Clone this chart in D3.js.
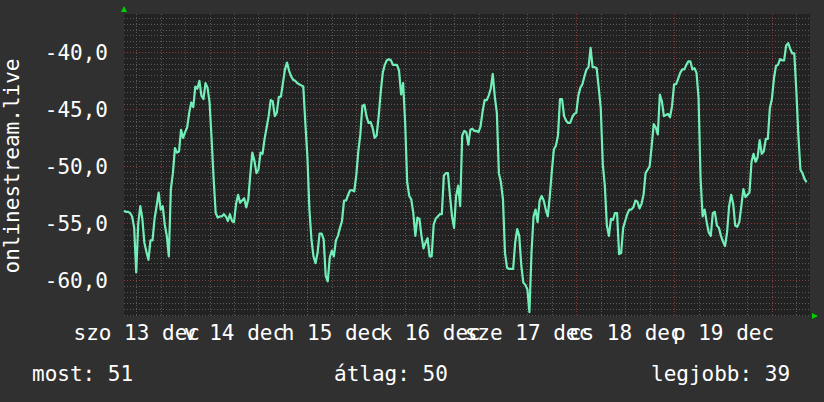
<!DOCTYPE html>
<html>
<head>
<meta charset="utf-8">
<script src="https://cdn.jsdelivr.net/npm/d3@7"></script>
<style>
  body { margin: 0; background: #303030; }
  svg text { font-family: "DejaVu Sans Mono", monospace; font-size: 21px; fill: #ffffff; }
</style>
</head>
<body>
<div class="chart"></div>
<script>
// rrd series, 30 minute steps from sat 13 dec 09:00
var startTime = Date.UTC(2014, 11, 13, 9, 0);
var stepMinutes = 30;
var values = [
  -53.9, -54.0, -54.0, -54.1, -54.4, -55.4, -59.3, -55.0, -53.5, -54.6,
  -56.7, -57.5, -58.2, -56.5, -56.5, -54.6, -53.5, -52.3, -53.8, -53.5,
  -55.1, -56.1, -57.9, -52.0, -50.6, -48.4, -48.8, -48.7, -46.8, -47.5,
  -47.0, -46.6, -45.3, -44.4, -44.8, -43.0, -43.2, -42.5, -43.8, -44.1,
  -42.7, -43.1, -44.4, -47.6, -51.1, -54.1, -54.5, -54.4, -54.4, -54.2,
  -54.4, -54.8, -54.2, -54.8, -54.9, -53.3, -52.5, -53.2, -53.0, -52.8,
  -53.6, -52.9, -50.7, -48.8, -49.5, -50.6, -50.3, -48.8, -48.9, -47.6,
  -46.6, -45.6, -44.2, -44.3, -45.6, -45.3, -43.9, -43.9, -42.7, -41.5,
  -40.9, -41.6, -42.1, -42.4, -42.5, -42.7, -42.8, -42.9, -43.0, -46.2,
  -49.1, -53.8, -56.4, -57.9, -58.5, -57.6, -55.9, -55.9, -56.4, -59.6,
  -60.1, -58.0, -57.4, -57.9, -56.5, -56.1, -55.4, -54.8, -53.0, -53.0,
  -52.5, -52.1, -52.1, -52.2, -50.8, -48.7, -47.2, -44.7, -44.6, -45.6,
  -46.2, -46.1, -46.6, -47.5, -47.3, -45.6, -43.5, -41.8, -41.1, -40.7,
  -40.6, -40.7, -41.1, -41.1, -41.1, -41.6, -43.7, -42.7, -46.2, -51.4,
  -52.6, -52.9, -54.1, -56.1, -54.5, -54.6, -56.1, -57.2, -56.7, -56.3,
  -57.9, -57.9, -55.1, -54.6, -54.4, -54.2, -54.2, -50.8, -50.6, -50.6,
  -52.6, -54.4, -55.4, -52.6, -51.7, -53.5, -47.3, -46.9, -47.0, -48.1,
  -46.8, -46.7, -46.9, -46.9, -47.0, -46.5, -45.2, -44.2, -44.2, -43.8,
  -43.2, -41.9, -43.9, -45.3, -50.6, -51.4, -52.9, -57.6, -58.9, -59.0,
  -59.0, -59.0, -56.7, -55.5, -56.1, -58.7, -60.2, -60.4, -60.8, -62.8,
  -57.6, -54.4, -53.8, -54.9, -53.0, -52.6, -53.0, -53.8, -54.4, -52.6,
  -50.4, -48.5, -48.2, -47.3, -44.1, -44.1, -45.6, -46.0, -46.2, -46.2,
  -45.7, -45.4, -45.3, -43.8, -43.1, -42.8, -42.1, -41.5, -41.3, -39.6,
  -41.3, -41.3, -41.4, -43.1, -44.9, -49.8, -51.7, -55.2, -56.1, -54.6,
  -54.7, -54.1, -54.1, -57.7, -57.6, -55.4, -54.8, -54.2, -53.8, -53.8,
  -53.6, -53.0, -53.1, -53.7, -53.3, -52.5, -50.6, -50.3, -50.0, -48.2,
  -46.3, -46.6, -47.2, -43.7, -44.3, -45.6, -45.5, -45.4, -45.7, -44.7,
  -42.8, -42.8, -42.3, -41.8, -41.5, -41.5, -41.1, -40.8, -40.8, -41.5,
  -41.4, -41.8, -44.0, -51.1, -54.4, -53.8, -54.9, -55.8, -56.1, -54.1,
  -54.0, -55.2, -55.4, -56.1, -56.6, -57.0, -55.8, -53.5, -52.5, -53.3,
  -55.2, -55.3, -54.9, -53.5, -52.0, -52.7, -52.5, -52.3, -49.6, -48.9,
  -49.6, -49.2, -47.7, -48.9, -48.7, -47.6, -47.6, -44.9, -44.1, -42.3,
  -41.2, -41.1, -40.6, -40.7, -40.7, -39.4, -39.2, -39.7, -40.1, -40.1,
  -43.4, -47.3, -50.3, -50.6, -51.1, -51.4
];

var yTicks = [-60, -55, -50, -45, -40];
var labelDays = [13, 14, 15, 16, 17, 18, 19];
var huShortDays = ["v", "h", "k", "sze", "cs", "p", "szo"];
var huShortMonths = ["jan", "febr", "márc", "ápr", "máj", "jún", "júl", "aug", "szept", "okt", "nov", "dec"];
var yTitle = "onlinestream.live";
var legendLabels = ["most: 51", "átlag: 50", "legjobb: 39"];

var W = 824, H = 402;
var margin = {top: 14, right: 14, bottom: 86, left: 124},
    width = W - margin.left - margin.right,
    height = H - margin.top - margin.bottom;

var svg = d3.select(".chart")
    .append("svg")
    .attr("width", W)
    .attr("height", H);

svg.append("rect").attr("width", W).attr("height", H).attr("fill", "#303030");

var g = svg.append("g")
    .attr("transform", "translate(" + margin.left + "," + margin.top + ")");

var data = values.map(function(v, i) {
  return {t: new Date(startTime + i * stepMinutes * 60000), v: v};
});

var t0 = new Date(startTime);
var t1 = new Date(startTime + 168.35 * 3600000);
var x = d3.scaleUtc().domain([t0, t1]).range([0, width]);
var y = d3.scaleLinear().domain([-63.13, -36.64]).range([height, 0]);

g.append("rect").attr("width", width).attr("height", height).attr("fill", "#222222");

function hGrid(vals, color) {
  g.append("g").selectAll("line").data(vals).enter().append("line")
      .attr("x1", 0).attr("x2", width)
      .attr("y1", function(d) { return Math.round(y(d)) + 0.5; })
      .attr("y2", function(d) { return Math.round(y(d)) + 0.5; })
      .attr("stroke", color).attr("stroke-dasharray", "1,2");
}
function vGrid(vals, color) {
  g.append("g").selectAll("line").data(vals).enter().append("line")
      .attr("y1", 0).attr("y2", height)
      .attr("x1", function(d) { return Math.round(x(d)) + 0.5; })
      .attr("x2", function(d) { return Math.round(x(d)) + 0.5; })
      .attr("stroke", color).attr("stroke-dasharray", "1,2");
}

// minor grid, every half unit / 6 hours
hGrid(d3.range(-63, -36.6, 0.5).filter(function(d) { return d % 5 !== 0; }), "#5a5a5a");
vGrid(d3.utcHour.every(6).range(t0, t1).filter(function(d) { return d.getUTCHours() !== 0; }), "#5a5a5a");
// major grid
hGrid(yTicks, "#8c3838");
vGrid(d3.utcDay.range(t0, t1), "#8c3838");

// Y axis
var huNum = d3.formatLocale({decimal: ",", thousands: " ", grouping: [3], currency: ["", ""], minus: "-"});
var yAxis = g.append("g")
    .call(d3.axisLeft(y).tickValues(yTicks).tickSize(0).tickPadding(16).tickFormat(huNum.format(".1f")));
yAxis.select(".domain").remove();
yAxis.selectAll("text")
    .attr("fill", "#ffffff").attr("dy", "0.36em")
    .style("font-family", "DejaVu Sans Mono").style("font-size", "21px");

// X axis, labels at noon
var huTime = d3.timeFormatLocale({
  dateTime: "%Y. %B %-e. %X", date: "%Y. %m. %d.", time: "%H:%M:%S",
  periods: ["de.", "du."],
  days: ["vasárnap", "hétfő", "kedd", "szerda", "csütörtök", "péntek", "szombat"],
  shortDays: huShortDays,
  months: ["január", "február", "március", "április", "május", "június", "július", "augusztus", "szeptember", "október", "november", "december"],
  shortMonths: huShortMonths
});
var noon = labelDays.map(function(d) { return new Date(Date.UTC(2014, 11, d, 12)); });
var xAxis = g.append("g")
    .attr("transform", "translate(0," + height + ")")
    .call(d3.axisBottom(x).tickValues(noon).tickSize(0).tickPadding(10).tickFormat(huTime.utcFormat("%a %d %b")));
xAxis.select(".domain").remove();
xAxis.selectAll("text")
    .attr("fill", "#ffffff").attr("y", 24).attr("dy", 0)
    .style("font-family", "DejaVu Sans Mono").style("font-size", "21px");

// the line
var line = d3.line()
    .x(function(d) { return x(d.t); })
    .y(function(d) { return y(d.v); });
g.append("path")
    .datum(data)
    .attr("fill", "none")
    .attr("stroke", "#72efb8")
    .attr("stroke-width", 2.2)
    .attr("stroke-linejoin", "round")
    .attr("d", line);

// axis arrows
svg.append("path")
    .attr("d", "M" + (margin.left - 3) + "," + (margin.top - 2) + "l3,-6l3,6z")
    .attr("fill", "#00d000");
svg.append("path")
    .attr("d", "M" + (margin.left + width + 2) + "," + (margin.top + height - 3) + "l6,3l-6,3z")
    .attr("fill", "#00d000");

// y title
svg.append("text")
    .attr("transform", "translate(18.5,166) rotate(-90)")
    .attr("text-anchor", "middle")
    .text(yTitle);

// legend
svg.append("text").attr("x", 32).attr("y", 381).text(legendLabels[0]);
svg.append("text").attr("x", 334).attr("y", 381).text(legendLabels[1]);
svg.append("text").attr("x", 651).attr("y", 381).text(legendLabels[2]);
</script>
</body>
</html>
